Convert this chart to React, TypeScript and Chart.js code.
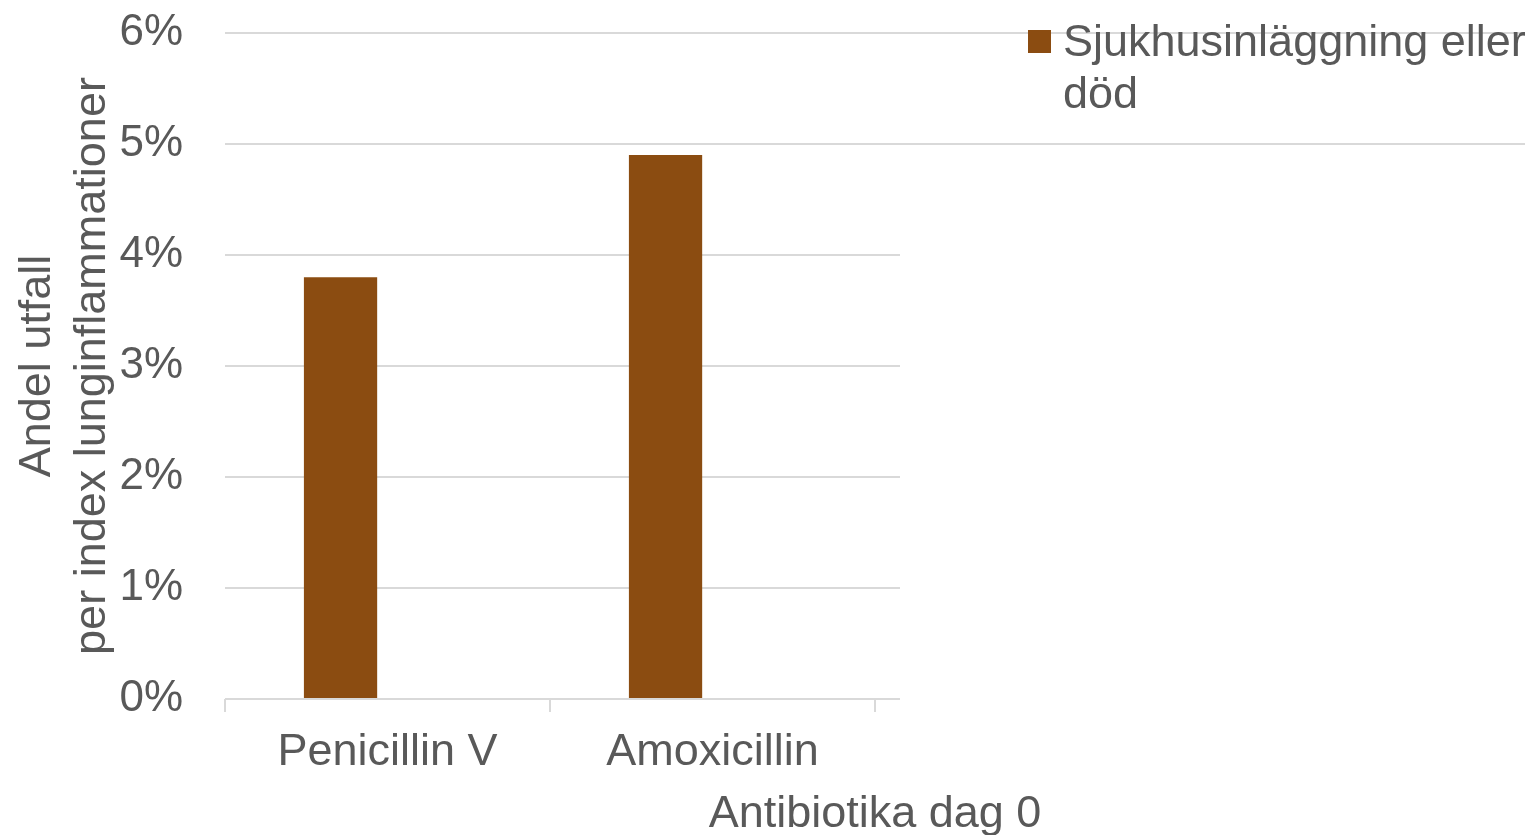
import { useEffect, useRef } from "react";
import { Chart, registerables } from "chart.js";

Chart.register(...registerables);

const categories = ["Penicillin V", "Amoxicillin"];
const seriesLabel = "Sjukhusinläggning eller död";
const seriesValues = [3.8, 4.9];
const emptySeriesValues = [null, null];
const yTickMin = 0;
const yTickMax = 6;
const yTickStep = 1;
const yAxisTitle = ["Andel utfall", "per index lunginflammationer"];
const xAxisTitle = "Antibiotika dag 0";

const TEXT = "#595959";
const GRID = "#D9D9D9";
const BAR = "#8B4C11";
const FONT = "'Liberation Sans', Arial, sans-serif";
const GRID_W = 2;

const extrasPlugin = {
  id: "extras",
  beforeDatasetsDraw(chart: any) {
    const { ctx, chartArea } = chart;
    const y = chart.scales.y;
    ctx.save();
    ctx.strokeStyle = GRID;
    ctx.lineWidth = GRID_W;
    y.ticks.forEach((t: any) => {
      const py = Math.round(y.getPixelForValue(t.value));
      const xEnd = t.value >= 5 ? 1525 : 900;
      ctx.beginPath();
      ctx.moveTo(chartArea.right, py);
      ctx.lineTo(xEnd, py);
      ctx.stroke();
    });
    ctx.restore();
  },
  afterDraw(chart: any) {
    const { ctx } = chart;
    const x = chart.scales.x;
    ctx.save();
    ctx.font = `45px ${FONT}`;
    ctx.fillStyle = TEXT;
    ctx.textAlign = "center";
    ctx.textBaseline = "alphabetic";
    ctx.fillText(xAxisTitle, x.right, 827);

    const ds = chart.data.datasets[0];
    ctx.fillStyle = ds.backgroundColor;
    ctx.fillRect(1028, 30, 23, 23);
    ctx.fillStyle = TEXT;
    ctx.textAlign = "left";
    const words = String(ds.label).split(" ");
    const lines: string[] = [];
    let cur = "";
    const maxW = 480;
    words.forEach((w) => {
      const test = cur ? cur + " " + w : w;
      if (ctx.measureText(test).width > maxW && cur) {
        lines.push(cur);
        cur = w;
      } else cur = test;
    });
    if (cur) lines.push(cur);
    lines.forEach((l, i) => ctx.fillText(l, 1063, 56 + i * 52));
    ctx.restore();
  },
};

export default function App() {
  const ref = useRef<HTMLCanvasElement>(null);
  useEffect(() => {
    if (!ref.current) return;
    const chart = new Chart(ref.current, {
      type: "bar",
      data: {
        labels: categories,
        datasets: [
          {
            label: seriesLabel,
            data: seriesValues,
            backgroundColor: BAR,
            borderWidth: 0,
            categoryPercentage: 0.578,
            barPercentage: 0.78,
          },
          {
            label: "",
            data: emptySeriesValues as any,
            backgroundColor: "rgba(0,0,0,0)",
            borderWidth: 0,
            categoryPercentage: 0.578,
            barPercentage: 0.78,
          },
        ],
      },
      options: {
        animation: false,
        responsive: false,
        layout: { padding: { top: 33, right: 1536 - 875, bottom: 0, left: 0 } },
        plugins: {
          legend: { display: false },
          tooltip: { enabled: false },
        },
        scales: {
          x: {
            type: "category",
            grid: {
              display: true,
              drawOnChartArea: false,
              drawTicks: true,
              tickLength: 13,
              color: GRID,
              lineWidth: GRID_W,
              offset: true,
            },
            border: { display: false },
            ticks: {
              font: { size: 45, family: FONT },
              color: TEXT,
              padding: 14,
              maxRotation: 0,
              autoSkip: false,
            },
            afterFit(s: any) {
              s.height = 136;
              s.paddingLeft = 0;
              s.paddingRight = 0;
            },
          },
          y: {
            min: yTickMin,
            max: yTickMax,
            ticks: {
              stepSize: yTickStep,
              font: { size: 44, family: FONT },
              color: TEXT,
              padding: 42,
              callback: (v: any) => v + "%",
            },
            grid: { color: GRID, drawTicks: false, lineWidth: GRID_W },
            border: { display: false },
            title: {
              display: true,
              text: yAxisTitle,
              color: TEXT,
              font: { size: 45, family: FONT, lineHeight: 55 / 45 },
              padding: { top: 10, bottom: 0 },
            },
            afterFit(s: any) {
              s.width = 225;
              s.paddingTop = 0;
              s.paddingBottom = 0;
            },
          },
        },
      },
      plugins: [extrasPlugin],
    });
    return () => chart.destroy();
  }, []);
  return (
    <div style={{ position: "fixed", left: 0, top: 0, width: 1536, height: 835, background: "#fff" }}>
      <canvas ref={ref} width={1536} height={835} style={{ display: "block" }} />
    </div>
  );
}
